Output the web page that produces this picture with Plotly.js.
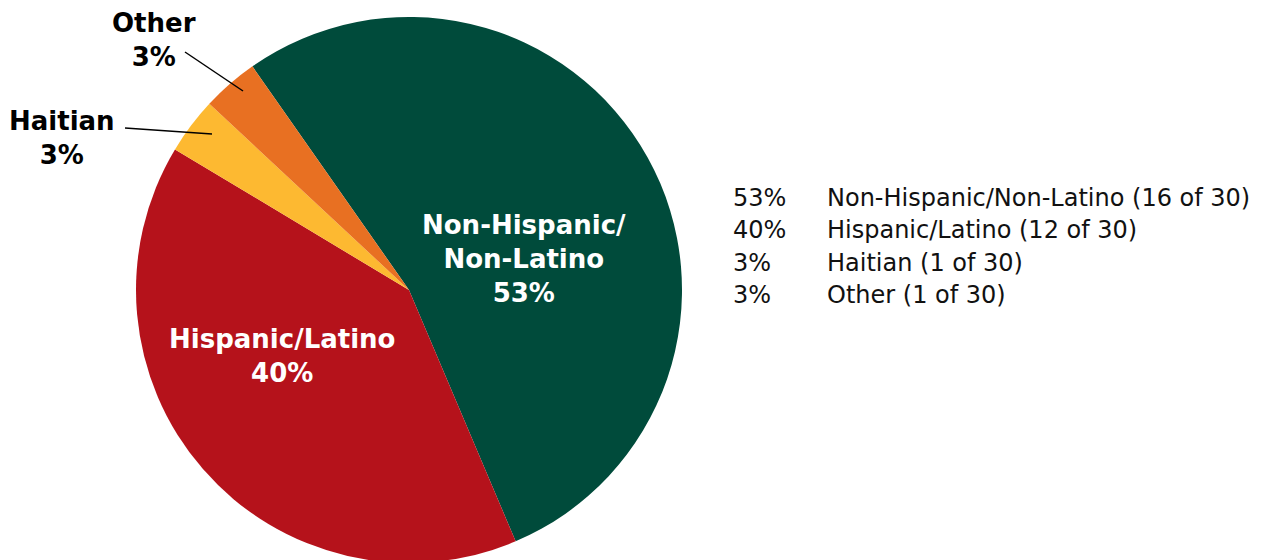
<!DOCTYPE html>
<html>
<head>
<meta charset="utf-8">
<script src="https://cdn.plot.ly/plotly-3.0.1.min.js"></script>
<style>
html,body{margin:0;padding:0;overflow:hidden;background:#fff;}
#chart{width:1261px;height:570px;}
</style>
</head>
<body>
<div id="chart"></div>
<script>
var categories = ["Non-Hispanic/Non-Latino", "Hispanic/Latino", "Haitian", "Other"];
var sliceLabels = ["Non-Hispanic/<br>Non-Latino", "Hispanic/Latino", "Haitian", "Other"];
var counts = [16, 12, 1, 1];
var total = 30;
var colors = ["#004B3B", "#B5121B", "#FDB931", "#E87022"];

var pct = counts.map(function(c){ return Math.round(c / total * 100) + "%"; });

var W = 1261, H = 570;
function px(x){ return x / W; }
function py(y){ return 1 - y / H; }

var trace = {
  type: "pie",
  values: counts,
  labels: categories,
  marker: {colors: colors, line: {width: 0}},
  sort: false,
  direction: "clockwise",
  rotation: -35,
  textinfo: "none",
  hoverinfo: "label+percent",
  domain: {x: [px(136), px(682)], y: [py(563), py(17)]},
  showlegend: false
};

var labelFont = {family: "'DejaVu Sans', sans-serif", size: 26, weight: 700};
var annotations = [];
function lab(text, cx, cy, color) {
  annotations.push({x: px(cx), y: py(cy), xref: "paper", yref: "paper", xanchor: "center", yanchor: "middle",
    showarrow: false, text: "<b>" + text + "</b>", font: Object.assign({}, labelFont, {color: color}), align: "center"});
}
lab(sliceLabels[0] + "<br>" + pct[0], 524, 259, "#fff");
lab(sliceLabels[1] + "<br>" + pct[1], 282, 356, "#fff");
lab(sliceLabels[2] + "<br>" + pct[2], 62, 138, "#000");
lab(sliceLabels[3] + "<br>" + pct[3], 154, 40, "#000");

// legend-like text rows
var rowY = [198, 230, 263, 295];
var legFont = {family: "'DejaVu Sans', sans-serif", size: 24, color: "#111"};
for (var i = 0; i < categories.length; i++) {
  annotations.push({x: px(731), y: py(rowY[i]), xref: "paper", yref: "paper", xanchor: "left", yanchor: "middle", showarrow: false,
    text: pct[i], font: legFont});
  annotations.push({x: px(825), y: py(rowY[i]), xref: "paper", yref: "paper", xanchor: "left", yanchor: "middle", showarrow: false,
    text: categories[i] + " (" + counts[i] + " of " + total + ")", font: legFont});
}

var shapes = [
  {type: "line", xref: "paper", yref: "paper", x0: px(185), y0: py(52), x1: px(243), y1: py(91), line: {color: "#000", width: 1.5}},
  {type: "line", xref: "paper", yref: "paper", x0: px(125), y0: py(128), x1: px(212), y1: py(134), line: {color: "#000", width: 1.5}}
];

var layout = {
  width: W, height: H,
  margin: {l: 0, r: 0, t: 0, b: 0},
  paper_bgcolor: "#fff",
  annotations: annotations,
  shapes: shapes,
  showlegend: false
};

Plotly.newPlot("chart", [trace], layout, {displayModeBar: false, staticPlot: true});
</script>
</body>
</html>
